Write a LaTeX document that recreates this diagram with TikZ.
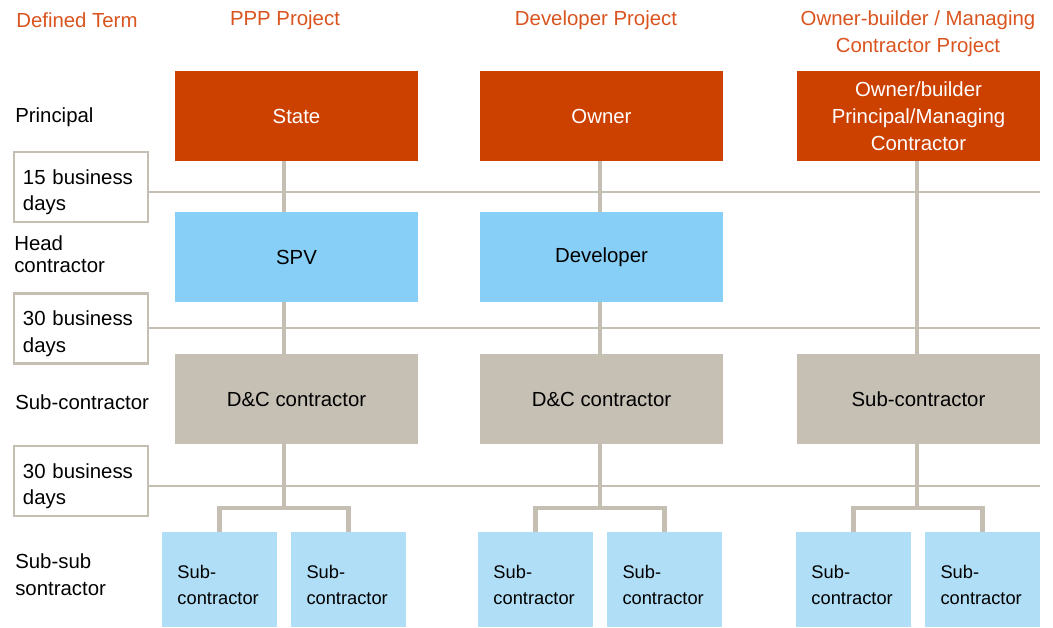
\documentclass[tikz,border=0pt]{standalone}
\usepackage{fontspec}
\setmainfont{Liberation Sans}
\usepackage{tikz}
\usetikzlibrary{positioning}
\definecolor{principalred}{HTML}{CC4100}
\definecolor{headblue}{HTML}{87CFF6}
\definecolor{subgrey}{HTML}{C5BFB4}
\definecolor{subsubblue}{HTML}{B0DEF6}
\definecolor{linegrey}{HTML}{C5BEB2}
\definecolor{headorange}{HTML}{D9541E}
\newcommand\tiertext{\fontsize{14.5}{19}\selectfont}
\newcommand\smalltier{\fontsize{13}{18.5}\selectfont}
\tikzset{
  tierbox/.style={
    rectangle, inner sep=0pt, outer sep=0pt,
    minimum width=6.075cm, minimum height=2.25cm,
    align=center, font=\tiertext
  },
  principalbox/.style={tierbox, fill=principalred, text=white},
  headbox/.style={tierbox, fill=headblue},
  subbox/.style={tierbox, fill=subgrey},
  subsubbox/.style={
    rectangle, inner sep=0pt, outer sep=0pt, fill=subsubblue,
    minimum width=2.875cm, minimum height=2.375cm,
    text width=2.1cm, align=left, font=\smalltier,
    text depth=11.4pt
  },
  daysbox/.style={
    rectangle, draw=linegrey, line width=2pt, fill=white,
    minimum width=3.35cm, minimum height=1.75cm,
    text width=2.9cm, align=left, inner sep=0pt, font=\tiertext,
    text depth=14.4pt
  },
  termlabel/.style={anchor=west, align=left, inner sep=0pt, font=\tiertext},
  heading/.style={text=headorange, align=center, inner sep=0pt, font=\tiertext},
  link/.style={draw=linegrey, line width=3.5pt},
  gridline/.style={draw=linegrey, line width=2pt},
}
\begin{document}
\begin{tikzpicture}[x=0.025cm, y=-0.025cm]
  \useasboundingbox (0,0) rectangle (1053,627);

  % headings
  \node[heading, anchor=west] (defterm) at (16,20) {Defined Term};
  \node[heading] (ppp) at (285,20) {PPP Project};
  \node[heading] (devproj) at (596,20) {Developer Project};
  \node[heading] (ownproj) at (918,33.5) {Owner-builder / Managing\\Contractor Project};

  % tier names down the left
  \node[termlabel] (tprincipal) at (15,117) {Principal};
  \node[termlabel, font=\fontsize{14.5}{15.6}\selectfont] (thead) at (14,254) {Head\\contractor};
  \node[termlabel] (tsub) at (15,402) {Sub-contractor};
  \node[termlabel] (tsubsub) at (15,575) {Sub-sub\\sontractor};

  % payment periods
  \node[daysbox] (daysA) at (81,187) {15 business\\days};
  \node[daysbox] (daysB) at (81,328.5) {30 business\\days};
  \node[daysbox] (daysC) at (81,481) {30 business\\days};
  \foreach \d/\y in {daysA/192, daysB/328, daysC/486}
    \draw[gridline] (\d.east |- 0,\y) -- (1040,\y);

  % PPP column
  \node[principalbox] (state) at (296.5,116) {State};
  \node[headbox, below=1.275cm of state] (spv) {SPV};
  \node[subbox, below=1.3cm of spv] (dcA) {D\&C contractor};

  % developer column
  \node[principalbox] (owner) at (601.5,116) {Owner};
  \node[headbox, below=1.275cm of owner] (developer) {Developer};
  \node[subbox, below=1.3cm of developer] (dcB) {D\&C contractor};

  % owner-builder column
  \node[principalbox] (ownerC) at (918.5,116) {Owner/builder\\Principal/Managing\\Contractor};
  \node[subbox] (subC) at (918.5,399) {Sub-contractor};

  % sub-sub contractors
  \node[subsubbox] (ssA1) at (219.5,579.5) {Sub-\\contractor};
  \node[subsubbox, right=0.35cm of ssA1] (ssA2) {Sub-\\contractor};
  \node[subsubbox] (ssB1) at (535.5,579.5) {Sub-\\contractor};
  \node[subsubbox, right=0.35cm of ssB1] (ssB2) {Sub-\\contractor};
  \node[subsubbox] (ssC1) at (853.5,579.5) {Sub-\\contractor};
  \node[subsubbox, right=0.35cm of ssC1] (ssC2) {Sub-\\contractor};

  % contract chains
  \coordinate (spineA) at (284,0);
  \coordinate (spineB) at (600,0);
  \coordinate (spineC) at (917,0);
  \coordinate (brY) at (0,508);
  \foreach \a/\b/\s in {state/spv/A, spv/dcA/A, owner/developer/B, developer/dcB/B, ownerC/subC/C}
    \draw[link] (\a.south -| spine\s) -- (\b.north -| spine\s);
  \foreach \c/\s in {dcA/A, dcB/B, subC/C} {
    \draw[link] (\c.south -| spine\s) -- (spine\s |- brY);
    \draw[link] (ss\s1.north) -- (ss\s1.north |- brY) -- (ss\s2.north |- brY) -- (ss\s2.north);
  }
\end{tikzpicture}
\end{document}
